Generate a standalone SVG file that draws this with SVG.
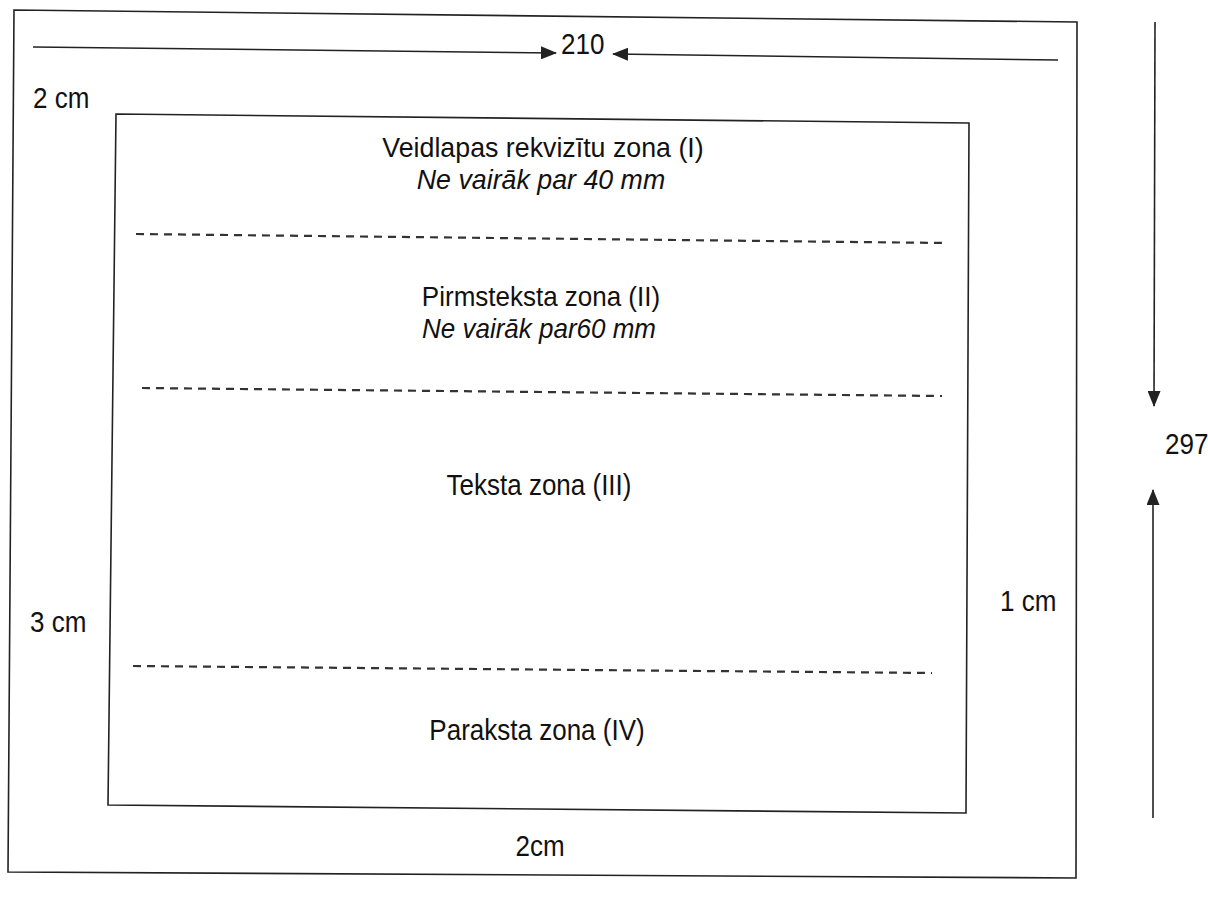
<svg xmlns="http://www.w3.org/2000/svg" width="1208" height="903" viewBox="0 0 1208 903">
<style>
.frame{fill:none;stroke:#222;stroke-width:1.6;stroke-linejoin:miter}
.dash{fill:none;stroke:#333;stroke-width:2.2;stroke-dasharray:8 6}
.arr{fill:none;stroke:#222;stroke-width:1.6}
.t{font-family:"Liberation Sans",Arial,sans-serif;font-size:26px;fill:#111}
.c{text-anchor:middle}
.i{font-style:italic}
</style>
<defs>
<marker id="ah" viewBox="0 0 16 13" refX="15" refY="6.5" markerWidth="16" markerHeight="13" markerUnits="userSpaceOnUse" orient="auto">
<path d="M0,0 L16,6.5 L0,13 Z" fill="#222"/>
</marker>
</defs>
<g id="outer-sheet">
<polygon class="frame" points="14,10 1077,22 1076,878 8,872"/>
</g>
<g id="inner-area">
<polygon class="frame" points="116,114 969,123 966,813 108,805"/>
</g>
<g id="connectors">
<line class="arr" x1="33" y1="47" x2="556" y2="53" marker-end="url(#ah)"/>
<line class="arr" x1="1058" y1="60" x2="613" y2="54" marker-end="url(#ah)"/>
<line class="arr" x1="1155" y1="22" x2="1154" y2="406" marker-end="url(#ah)"/>
<line class="arr" x1="1153" y1="818" x2="1153" y2="490" marker-end="url(#ah)"/>
<line class="dash" x1="136" y1="234" x2="945" y2="243"/>
<line class="dash" x1="142" y1="388" x2="942" y2="396"/>
<line class="dash" x1="133" y1="666" x2="932" y2="673"/>
</g>
<g id="zone-1">
<text class="t c" transform="translate(543,157) scale(1.03,1.05)">Veidlapas rekvizītu zona (I)</text>
<text class="t c i" transform="translate(541,189) scale(1.03,1.05)">Ne vairāk par 40 mm</text>
</g>
<g id="zone-2">
<text class="t c" transform="translate(541,306) scale(1,1.05)">Pirmsteksta zona (II)</text>
<text class="t c i" transform="translate(539,338) scale(1,1.05)">Ne vairāk par60 mm</text>
</g>
<g id="zone-3">
<text class="t c" transform="translate(539,495) scale(1,1.1)">Teksta zona (III)</text>
</g>
<g id="zone-4">
<text class="t c" transform="translate(537,740) scale(1,1.1)">Paraksta zona (IV)</text>
</g>
<g id="labels">
<text class="t" transform="translate(33,108) scale(1,1.1)">2 cm</text>
<text class="t" transform="translate(561,54) scale(1,1.1)">210</text>
<text class="t" transform="translate(1165,454) scale(1,1.1)">297</text>
<text class="t" transform="translate(30,632) scale(1,1.1)">3 cm</text>
<text class="t" transform="translate(1000,611) scale(1,1.1)">1 cm</text>
<text class="t c" transform="translate(540,856) scale(1,1.1)">2cm</text>
</g>
</svg>
